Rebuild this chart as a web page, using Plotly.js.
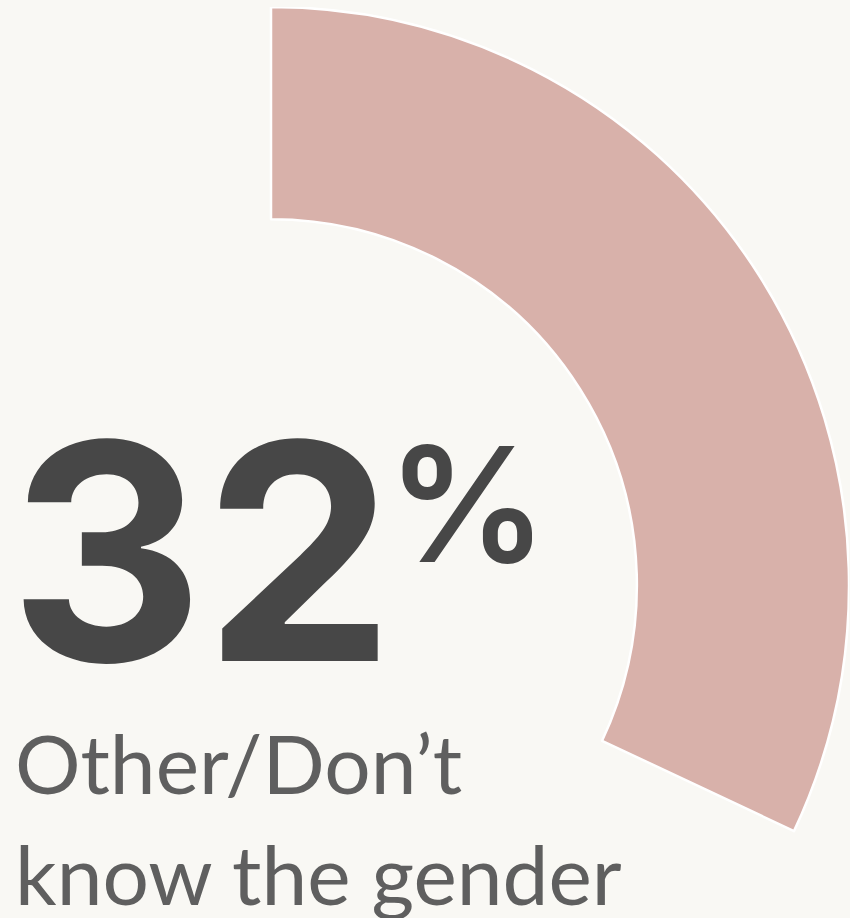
<!DOCTYPE html>
<html><head><meta charset="utf-8">
<script src="https://cdn.plot.ly/plotly-3.0.1.min.js"></script>
<style>
html,body{margin:0;padding:0;width:850px;height:918px;overflow:hidden;background:#f9f8f4}
#chart{position:absolute;left:-307px;top:7px;width:1156px;height:1156px}
</style>
</head><body><div id="chart"></div>
<script>
// ---- data ----
const labels = ["Other/Don’t know the gender", "Rest"];
const values = [32, 68];
const sliceColors = ["#d8b1aa", "rgba(0,0,0,0)"];
const bigValue = "32";
const bigUnit = "%";
const captionLines = ["Other/Don’t", "know the gender"];

// ---- layout helpers (pixel -> paper coordinates of the enlarged plot div) ----
const OFF_X = -307, OFF_Y = 7, SIZE = 1156;
const px = x => (x - OFF_X) / SIZE;
const py = y => 1 - (y - OFF_Y) / SIZE;

const trace = {
  type: "pie",
  labels: labels,
  values: values,
  sort: false,
  direction: "clockwise",
  rotation: 0,
  hole: 0.633,
  textinfo: "none",
  hoverinfo: "skip",
  showlegend: false,
  domain: {x: [0, 1], y: [0, 1]},
  marker: {
    colors: sliceColors,
    line: {color: ["#ffffff", "rgba(0,0,0,0)"], width: [2.5, 0]}
  }
};

const annotations = [
  {text: bigValue, x: px(8), y: py(551), xanchor: "left", yanchor: "middle",
   font: {family: "Inter, Liberation Sans, sans-serif", size: 302, weight: 700, color: "#474747"}},
  {text: bigUnit, x: px(386), y: py(504), xanchor: "left", yanchor: "middle",
   font: {family: "Inter, Liberation Sans, sans-serif", size: 160, weight: 600, color: "#474747"}},
  {text: captionLines[0], x: px(14), y: py(762), xanchor: "left", yanchor: "middle",
   font: {family: "Lato, sans-serif", size: 82, color: "#5f5f5f"}},
  {text: captionLines[1], x: px(14), y: py(873), xanchor: "left", yanchor: "middle",
   font: {family: "Lato, sans-serif", size: 82, color: "#5f5f5f"}}
].map(a => Object.assign({xref: "paper", yref: "paper", showarrow: false, borderpad: 0}, a));

const layout = {
  width: SIZE, height: SIZE,
  margin: {l: 0, r: 0, t: 0, b: 0, pad: 0},
  paper_bgcolor: "#f9f8f4",
  plot_bgcolor: "#f9f8f4",
  annotations: annotations
};

Plotly.newPlot("chart", [trace], layout, {displayModeBar: false, staticPlot: true});
</script>
</body></html>
